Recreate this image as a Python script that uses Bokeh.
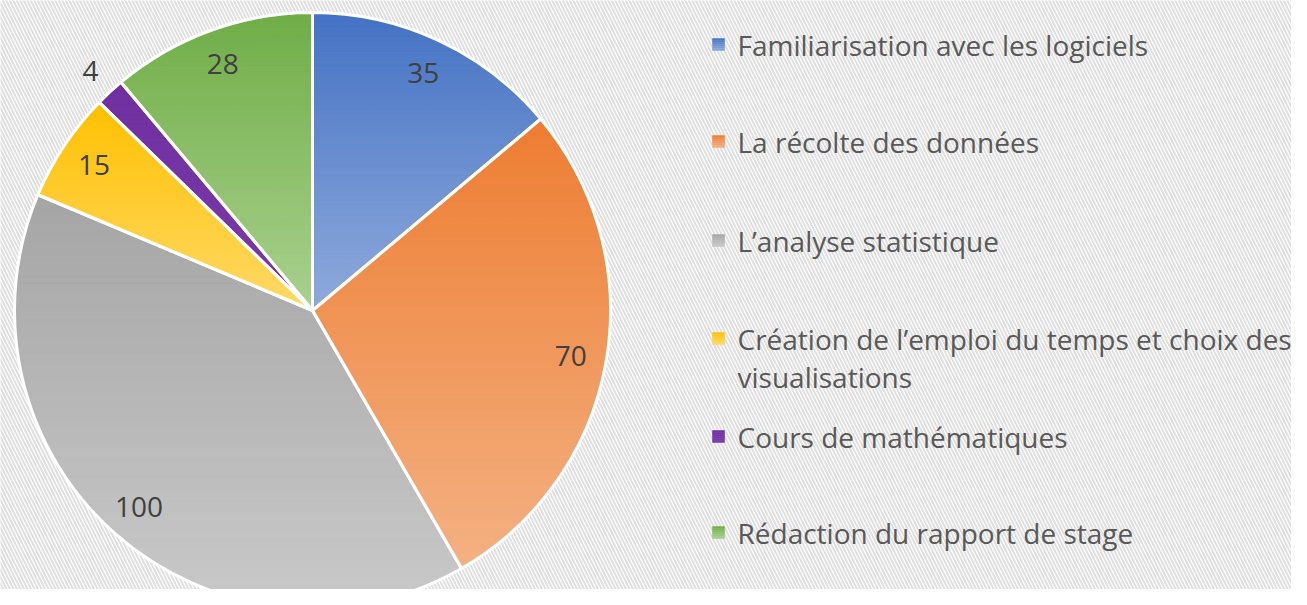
import numpy as np
from bokeh.plotting import figure
from bokeh.models import Range1d
from bokeh.core.properties import value
from bokeh.embed import file_html
from bokeh.resources import INLINE

# ---- data ----
categories = [
    "Familiarisation avec les logiciels",
    "La récolte des données",
    "L’analyse statistique",
    "Création de l’emploi du temps et choix des\nvisualisations",
    "Cours de mathématiques",
    "Rédaction du rapport de stage",
]
values = [35, 70, 100, 15, 4, 28]
top_colors = ["#4472C4", "#ED7D31", "#A5A5A5", "#FFC000", "#7030A0", "#70AD47"]
bottom_colors = ["#8FAADC", "#F4B183", "#C9C9C9", "#FFD966", "#7A3AAA", "#A9D18E"]
label_radius = [0.88, 0.88, 0.88, 0.88, 1.095, 0.88]

# ---- layout (pixel-like data units; y up: y_data = 605 - y_pix) ----
W, H = 1291, 589
CX, CY, R = 312, 295, 298
legend_y_pix = [44, 141, 240, 357, 436, 532]
FONT = "Open Sans"
FS = 28

p = figure(width=W, height=H, output_backend="svg", toolbar_location=None,
           x_range=Range1d(0, W), y_range=Range1d(605 - H, 605),
           min_border=0, outline_line_color=None)
p.axis.visible = False
p.grid.visible = False
p.background_fill_color = "white"
p.border_fill_color = "white"

# diagonal hatched background
p.quad(left=[-50], right=[1400], bottom=[-50], top=[700], fill_alpha=0,
       line_alpha=0, hatch_pattern="\\", hatch_color="#e0e0e0",
       hatch_scale=7, hatch_weight=2)


def hex2rgb(h):
    h = h.lstrip("#")
    return np.array([int(h[i:i + 2], 16) for i in (0, 2, 4)], dtype=float)


def mix(c1, c2, t):
    a, b = hex2rgb(c1), hex2rgb(c2)
    c = a + (b - a) * t
    return "#%02x%02x%02x" % tuple(int(round(v)) for v in c)


def clip(poly, yv, keep_above):
    out = []
    n = len(poly)
    for i in range(n):
        cur = poly[i]
        prev = poly[i - 1]
        cin = cur[1] >= yv if keep_above else cur[1] <= yv
        pin = prev[1] >= yv if keep_above else prev[1] <= yv
        if cin:
            if not pin:
                t = (yv - prev[1]) / (cur[1] - prev[1])
                out.append((prev[0] + t * (cur[0] - prev[0]), yv))
            out.append(cur)
        elif pin:
            t = (yv - prev[1]) / (cur[1] - prev[1])
            out.append((prev[0] + t * (cur[0] - prev[0]), yv))
    return out


def gradient_patches(poly, c_top, c_bot, nbands=60):
    ys = [q[1] for q in poly]
    ymin, ymax = min(ys), max(ys)
    xs_out, ys_out, cols = [], [], []
    edges = np.linspace(ymax, ymin, nbands + 1)
    for i in range(nbands):
        y1, y0 = edges[i], edges[i + 1]
        part = clip(poly, y0, True)
        if not part:
            continue
        part = clip(part, y1, False)
        if len(part) < 3:
            continue
        t = (i + 0.5) / nbands
        xs_out.append([q[0] for q in part])
        ys_out.append([q[1] for q in part])
        cols.append(mix(c_top, c_bot, t))
    return xs_out, ys_out, cols


total = float(sum(values))
cum = np.concatenate([[0], np.cumsum(values)]) / total
start_deg = 90 - cum[:-1] * 360
end_deg = 90 - cum[1:] * 360

all_xs, all_ys, all_cols = [], [], []
for i in range(len(values)):
    th = np.radians(np.linspace(start_deg[i], end_deg[i], 200))
    poly = [(CX, CY)] + [(CX + R * np.cos(a), CY + R * np.sin(a)) for a in th]
    xs, ys, cs = gradient_patches(poly, top_colors[i], bottom_colors[i])
    all_xs += xs
    all_ys += ys
    all_cols += cs
p.patches(all_xs, all_ys, fill_color=all_cols, line_color=all_cols, line_width=1)

# white slice borders
p.wedge(x=[CX] * len(values), y=[CY] * len(values), radius=R,
        start_angle=list(np.radians(start_deg)), end_angle=list(np.radians(end_deg)),
        direction="clock", fill_alpha=0, line_color="white", line_width=3)

# data labels
mid = np.radians((start_deg + end_deg) / 2)
lx = CX + np.array(label_radius) * R * np.cos(mid)
ly = CY + np.array(label_radius) * R * np.sin(mid)
p.text(x=list(lx), y=list(ly), text=[str(v) for v in values],
       text_font=value(FONT), text_font_size=f"{FS}px", text_color="#404040",
       text_align="center", text_baseline="middle")

# legend
sq = 12
lxs, lys, lcs = [], [], []
for i, yp in enumerate(legend_y_pix):
    yd = 605 - yp
    if i == 3:
        yd = 605 - 338
    poly = [(712, yd - sq / 2), (724, yd - sq / 2), (724, yd + sq / 2), (712, yd + sq / 2)]
    xs, ys, cs = gradient_patches(poly, top_colors[i], bottom_colors[i], nbands=6)
    lxs += xs
    lys += ys
    lcs += cs
p.patches(lxs, lys, fill_color=lcs, line_color=lcs, line_width=0.5)

p.text(x=[737] * len(categories), y=[605 - yp for yp in legend_y_pix], text=categories,
       text_font=value(FONT), text_font_size=f"{FS}px", text_color="#595959",
       text_align="left", text_baseline="middle", text_line_height=1.0)

open("out.html", "w").write(file_html(p, INLINE))
